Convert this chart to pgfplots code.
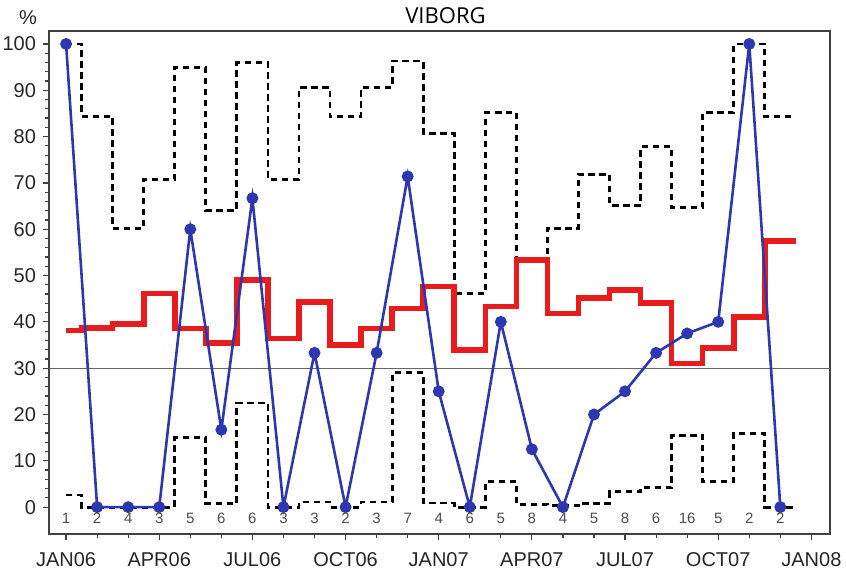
\documentclass[border=0pt]{standalone}
\usepackage{pgfplots}
\pgfplotsset{compat=1.18}
\usepackage{pgfplotstable}
\usepackage{fontspec}
\setmainfont{Liberation Sans}
\newfontfamily\titlefont{Open Sans}
\definecolor{sasblue}{RGB}{45,55,175}
\definecolor{sasred}{RGB}{232,28,28}

% month, lower limit, upper limit, mean
\pgfplotstableread{
m    lo    up     mean
0    2.6   100    38.1
1    0     84.4   38.7
2    0     60.2   39.5
3    0     70.8   46.1
4    15.0  94.9   38.6
5    0.8   64.1   35.4
6    22.5  96.0   49.0
7    0     70.8   36.4
8    1.1   90.6   44.3
9    0     84.3   35.0
10   1.1   90.6   38.6
11   29.0  96.3   42.9
12   0.9   80.7   47.6
13   0     46.1   33.9
14   5.5   85.2   43.3
15   0.6   53.0   53.3
16   0.3   60.2   41.8
17   0.8   71.9   45.1
18   3.3   65.2   46.9
19   4.2   77.8   44.1
20   15.5  64.7   31.0
21   5.5   85.2   34.3
22   15.9  100    41.1
23   0     84.3   57.5
23.5 0     84.3   57.5
}\steps

% month, observed %, n
\pgfplotstableread{
m   pct    ypos  n
0   100    -2.4  1
1   0      -2.4  2
2   0      -2.4  4
3   0      -2.4  3
4   60     -2.4  5
5   16.7   -2.4  6
6   66.7   -2.4  6
7   0      -2.4  3
8   33.3   -2.4  3
9   0      -2.4  2
10  33.3   -2.4  3
11  71.4   -2.4  7
12  25     -2.4  4
13  0      -2.4  6
14  40     -2.4  5
15  12.5   -2.4  8
16  0      -2.4  4
17  20     -2.4  5
18  25     -2.4  8
19  33.3   -2.4  6
20  37.5   -2.4  16
21  40     -2.4  5
22  100    -2.4  2
23  0      -2.4  2
}\obs

\begin{document}
\begin{tikzpicture}
\begin{axis}[
    name=ax,
    scale only axis,
    width=390.5pt, height=251.5pt,
    xmin=-0.55, xmax=24.6,
    ymin=-5.8, ymax=102.8,
    axis line style={black!75, line width=0.7pt},
    tick align=outside,
    xtick pos=bottom, ytick pos=left,
    xtick={0,3,...,24},
    xticklabels={JAN06,APR06,JUL06,OCT06,JAN07,APR07,JUL07,OCT07,JAN08},
    minor xtick={0,1,...,24},
    ytick={0,10,...,100},
    minor y tick num=4,
    major tick length=3pt, minor tick length=2pt,
    every tick/.style={black!75, line width=0.6pt},
    /pgf/number format/assume math mode=true,
    ticklabel style={font=\fontsize{10}{12}\selectfont, text=black!85},
    xticklabel style={yshift=-2.5pt},
    clip=false,
]
\addplot[black!60, line width=0.5pt] coordinates {(-0.55,30) (24.6,30)};
\addplot[black, line width=1.4pt, dash pattern=on 3.2pt off 2.3pt, const plot mark mid] table[x=m, y=up] {\steps};
\addplot[black, line width=1.4pt, dash pattern=on 3.2pt off 2.3pt, const plot mark mid] table[x=m, y=lo] {\steps};
\addplot[sasred, line width=2.8pt, const plot mark mid] table[x=m, y=mean] {\steps};
\addplot[sasblue, line width=1.3pt, mark=*, mark size=2.3pt] table[x=m, y=pct] {\obs};
\addplot[draw=none, nodes near coords, point meta=explicit symbolic,
    nodes near coords align=center,
    every node near coord/.style={font=\fontsize{7.5}{8}\selectfont, text=black!70, anchor=center}]
    table[x=m, y=ypos, meta=n] {\obs};
\end{axis}
\node[font=\fontsize{10}{12}\selectfont, text=black!85] at ([xshift=-10.5pt, yshift=6.5pt]ax.north west) {\%};
\node[font=\titlefont\fontsize{11}{13}\selectfont] at ([xshift=3pt, yshift=7.5pt]ax.north) {VIBORG};
\pgfresetboundingbox
\path ([xshift=-24.5pt, yshift=-18.5pt]ax.south west) rectangle ([xshift=8pt, yshift=15.5pt]ax.north east);
\end{tikzpicture}
\end{document}
